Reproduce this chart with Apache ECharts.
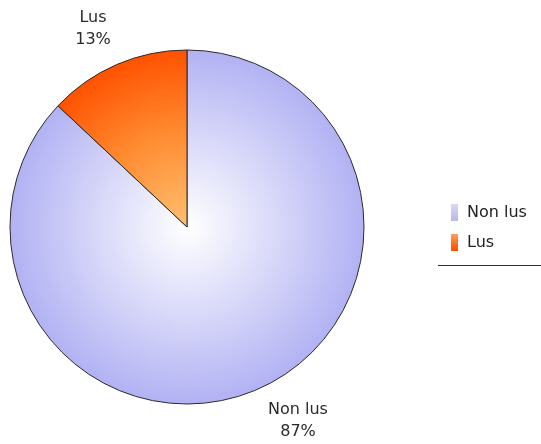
<!DOCTYPE html>
<html><head><meta charset="utf-8">
<script src="https://cdn.jsdelivr.net/npm/echarts@6/dist/echarts.min.js"></script>
<style>html,body{margin:0;padding:0;background:#fff}#c{width:541px;height:444px}</style>
</head><body><div id="c"></div>
<script>
const categories = ['Non lus', 'Lus'];
const values = [87, 13];
const legendLabels = ['Non lus', 'Lus'];

const CX = 187, CY = 227, R = 177;
const fills = [
  {type:'radial', x:CX, y:CY, r:R, global:true, colorStops:[{offset:0,color:'#ffffff'},{offset:1,color:'#b2b2f4'}]},
  {type:'radial', x:CX, y:CY, r:R, global:true, colorStops:[{offset:0,color:'#ffc070'},{offset:0.55,color:'#ff8a30'},{offset:1,color:'#ff5200'}]}
];
const legendFills = [
  {type:'linear', x:0, y:0, x2:0, y2:1, colorStops:[{offset:0,color:'#d8d8f6'},{offset:1,color:'#b8b8ea'}]},
  {type:'linear', x:0, y:0, x2:0, y2:1, colorStops:[{offset:0,color:'#ffa050'},{offset:1,color:'#ff4a00'}]}
];
const labelPos = {'Lus':[93,29], 'Non lus':[298,421]};
const FONT = 'DejaVu Sans, Verdana, sans-serif';

const chart = echarts.init(document.getElementById('c'), null, {renderer:'canvas'});
chart.setOption({
  animation:false,
  legend:{
    orient:'vertical', left:451, top:204, padding:0, itemWidth:7, itemHeight:17, itemGap:13,
    icon:'rect',
    data: legendLabels.map((n,i)=>({name:n, itemStyle:{color:legendFills[i], borderWidth:0}})),
    textStyle:{fontFamily:FONT, fontSize:16, color:'#222', padding:[0,0,0,4]}
  },
  graphic:[{type:'line', shape:{x1:438,y1:265.5,x2:541,y2:265.5}, style:{stroke:'#333', lineWidth:1}}],
  series:[{
    type:'pie', center:[CX,CY], radius:[0,R], startAngle:90, clockwise:true,
    data: categories.map((n,i)=>({name:n, value:values[i], itemStyle:{color:fills[i]}})),
    itemStyle:{borderColor:'#2a2a2a', borderWidth:1},
    label:{show:true, position:'outside', formatter:'{b}\n{d}%', fontFamily:FONT, fontSize:16, color:'#2a2a2a', lineHeight:22, align:'left'},
    labelLine:{show:false},
    labelLayout:function(p){
      const n = categories[p.dataIndex];
      const pos = labelPos[n];
      return {x:pos[0], y:pos[1], align:'center', verticalAlign:'middle'};
    },
    emphasis:{disabled:true}
  }]
});
</script></body></html>
